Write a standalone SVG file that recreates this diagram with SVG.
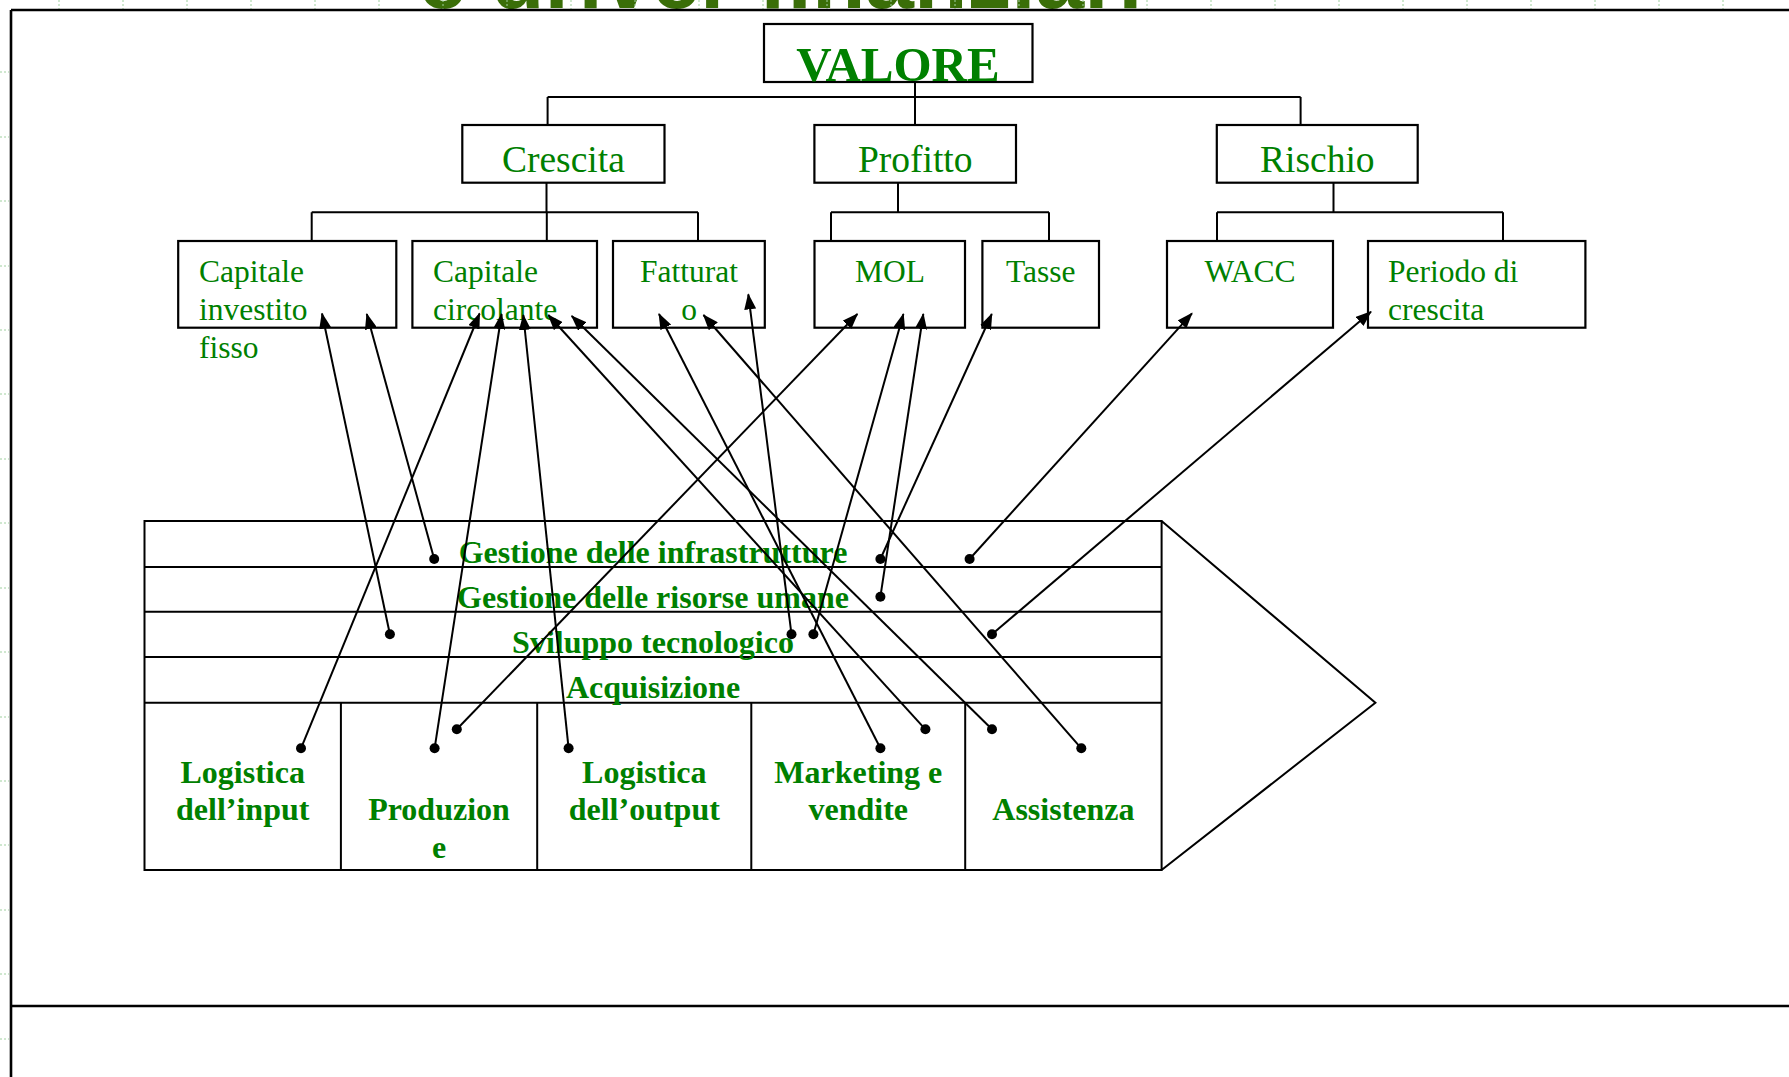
<svg xmlns="http://www.w3.org/2000/svg" width="1789" height="1077" viewBox="0 0 1789 1077">
<defs>
<style>
.box{fill:#fff;stroke:#000;stroke-width:2.2}
.ln{fill:none;stroke:#000;stroke-width:2}
.frame{fill:none;stroke:#000;stroke-width:2.6}
.t1{font-family:"Liberation Serif",serif;font-size:37.5px;fill:#008000}
.t2{font-family:"Liberation Serif",serif;font-size:31.5px;fill:#008000}
.tv{font-family:"Liberation Serif",serif;font-size:49px;font-weight:bold;fill:#008000}
.tb{font-family:"Liberation Serif",serif;font-size:32px;font-weight:bold;fill:#008000}
.title{font-family:"Liberation Sans",Arial,sans-serif;font-size:87.5px;font-weight:bold;fill:#3a6e08}
.c{text-anchor:middle}
.arr{fill:none;stroke:#000;stroke-width:2;marker-end:url(#ah)}
.dot{fill:#000}
.tick{stroke:#9fd09f;stroke-width:1;stroke-dasharray:2 2}
</style>
<marker id="ah" markerUnits="userSpaceOnUse" markerWidth="16" markerHeight="12" refX="15" refY="6" orient="auto"><path d="M0,0 L16,6 L0,12 z" fill="#000"/></marker>
</defs>
<rect width="1789" height="1077" fill="#fff"/>
<g id="title"><text class="title" x="418" y="8">e driver finanziari</text></g>
<g id="ruler">
<path class="tick" d="M59,0V9 M123,0V9 M187,0V9 M251,0V9 M315,0V9 M379,0V9 M443,0V9 M507,0V9 M571,0V9 M635,0V9 M699,0V9 M763,0V9 M827,0V9 M891,0V9 M955,0V9 M1019,0V9 M1083,0V9 M1147,0V9 M1211,0V9 M1275,0V9 M1339,0V9 M1403,0V9 M1467,0V9 M1531,0V9 M1595,0V9 M1659,0V9 M1723,0V9"/>
<path class="tick" d="M0,72H9 M0,137H9 M0,201H9 M0,266H9 M0,330H9 M0,394H9 M0,459H9 M0,523H9 M0,588H9 M0,652H9 M0,717H9 M0,781H9 M0,845H9 M0,910H9 M0,974H9 M0,1039H9"/>
</g>
<g id="frame">
<path class="frame" d="M11,10H1789 M11,10V1077 M11,1006H1789"/>
</g>
<g id="connectors">
<path class="ln" d="M915,82V97 M547.6,97H1300.6 M547.6,97V125 M915,97V125 M1300.6,97V125"/>
<path class="ln" d="M546.5,182.7V212.3 M311.7,212.3H698 M311.7,212.3V241 M546.8,212.3V241 M698,212.3V241"/>
<path class="ln" d="M898,182.7V212.3 M831,212.3H1049 M831,212.3V241 M1049,212.3V241"/>
<path class="ln" d="M1333.5,182.7V212.3 M1217,212.3H1503 M1217,212.3V241 M1503,212.3V241"/>
</g>
<g id="valore"><rect class="box" x="764" y="24" width="268.5" height="58"/><text class="tv c" x="898" y="81">VALORE</text></g>
<g id="crescita"><rect class="box" x="462.3" y="125" width="202.2" height="57.7"/><text class="t1 c" x="563.4" y="172">Crescita</text></g>
<g id="profitto"><rect class="box" x="814.4" y="125" width="201.6" height="57.7"/><text class="t1 c" x="915.2" y="172">Profitto</text></g>
<g id="rischio"><rect class="box" x="1216.8" y="125" width="200.9" height="57.7"/><text class="t1 c" x="1317.3" y="172">Rischio</text></g>
<g id="capitale-investito"><rect class="box" x="178.2" y="241" width="218.1" height="86.7"/><text class="t2" x="199" y="282">Capitale</text><text class="t2" x="199" y="320">investito</text><text class="t2" x="199" y="358">fisso</text></g>
<g id="capitale-circolante"><rect class="box" x="412.4" y="241" width="184.6" height="86.7"/><text class="t2" x="433" y="282">Capitale</text><text class="t2" x="433" y="320">circolante</text></g>
<g id="fatturato"><rect class="box" x="613" y="241" width="151.8" height="86.7"/><text class="t2 c" x="689" y="282">Fatturat</text><text class="t2 c" x="689" y="320">o</text></g>
<g id="mol"><rect class="box" x="814.5" y="241" width="150.5" height="86.7"/><text class="t2 c" x="890" y="282">MOL</text></g>
<g id="tasse"><rect class="box" x="982.4" y="241" width="116.6" height="86.7"/><text class="t2 c" x="1040.7" y="282">Tasse</text></g>
<g id="wacc"><rect class="box" x="1167" y="241" width="166" height="86.7"/><text class="t2 c" x="1250" y="282">WACC</text></g>
<g id="periodo"><rect class="box" x="1368" y="241" width="217.4" height="86.7"/><text class="t2" x="1388" y="282">Periodo di</text><text class="t2" x="1388" y="320">crescita</text></g>
<g id="catena-valore">
<path class="ln" d="M144.5,521H1161.6V870H144.5Z M144.5,567H1161.6 M144.5,611.7H1161.6 M144.5,657H1161.6 M144.5,702.7H1161.6 M340.9,702.7V870 M537.2,702.7V870 M751.3,702.7V870 M965.2,702.7V870 M1161.6,521L1375.4,702.7L1161.6,870"/>
<text class="tb c" x="653" y="563">Gestione delle infrastrutture</text>
<text class="tb c" x="653" y="608">Gestione delle risorse umane</text>
<text class="tb c" x="653" y="653">Sviluppo tecnologico</text>
<text class="tb c" x="653" y="698">Acquisizione</text>
<text class="tb c" x="242.7" y="783">Logistica</text><text class="tb c" x="242.7" y="820">dell’input</text>
<text class="tb c" x="439" y="820">Produzion</text><text class="tb c" x="439" y="858">e</text>
<text class="tb c" x="644.3" y="783">Logistica</text><text class="tb c" x="644.3" y="820">dell’output</text>
<text class="tb c" x="858.3" y="783">Marketing e</text><text class="tb c" x="858.3" y="820">vendite</text>
<text class="tb c" x="1063.4" y="820">Assistenza</text>
</g>
<g id="driver-links">
<path class="arr" d="M389.9,634.3L322,313.5"/>
<path class="arr" d="M434.2,559L366.8,314"/>
<path class="arr" d="M301,748.3L479.6,313.5"/>
<path class="arr" d="M434.6,748.3L501.6,314"/>
<path class="arr" d="M568.6,748.3L523.3,315"/>
<path class="arr" d="M925.4,729.3L548.3,315"/>
<path class="arr" d="M992,729.3L571.7,316"/>
<path class="arr" d="M880.4,748.3L659,314"/>
<path class="arr" d="M1081.3,748.3L703.5,315"/>
<path class="arr" d="M791.5,634.3L748.3,294.3"/>
<path class="arr" d="M456.8,729.3L857.4,314"/>
<path class="arr" d="M813.4,634.3L903.4,314"/>
<path class="arr" d="M880.4,596.7L923.3,314"/>
<path class="arr" d="M880.4,559L991.8,314"/>
<path class="arr" d="M969.6,559L1192,313.3"/>
<path class="arr" d="M992,634.3L1371,311.7"/>
<g class="dot">
<circle cx="389.9" cy="634.3" r="5"/><circle cx="434.2" cy="559" r="5"/><circle cx="301" cy="748.3" r="5"/><circle cx="434.6" cy="748.3" r="5"/>
<circle cx="568.6" cy="748.3" r="5"/><circle cx="925.4" cy="729.3" r="5"/><circle cx="992" cy="729.3" r="5"/><circle cx="880.4" cy="748.3" r="5"/>
<circle cx="1081.3" cy="748.3" r="5"/><circle cx="791.5" cy="634.3" r="5"/><circle cx="456.8" cy="729.3" r="5"/><circle cx="813.4" cy="634.3" r="5"/>
<circle cx="880.4" cy="596.7" r="5"/><circle cx="880.4" cy="559" r="5"/><circle cx="969.6" cy="559" r="5"/><circle cx="992" cy="634.3" r="5"/>
</g>
</g>
</svg>
